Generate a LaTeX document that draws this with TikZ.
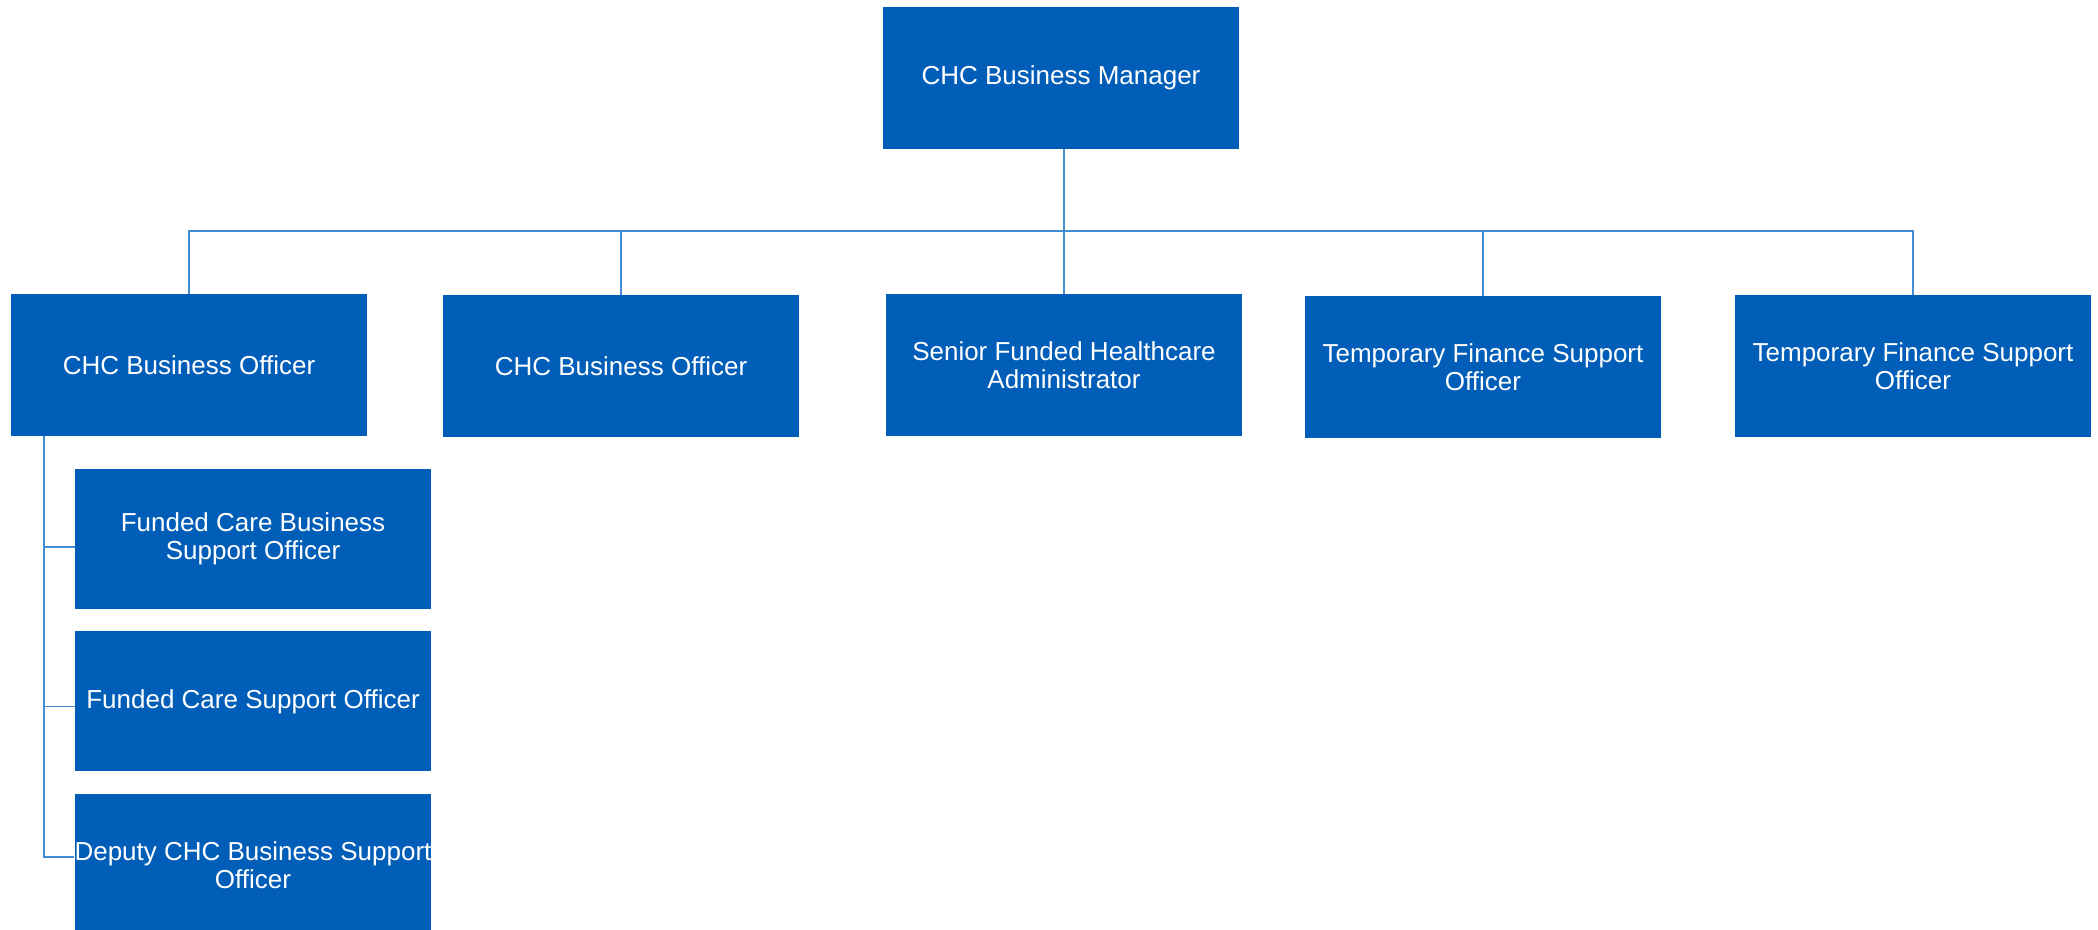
\documentclass[tikz,border=0pt]{standalone}
\usepackage{fontspec}
\setmainfont{Liberation Sans}
\usepackage{xcolor}
\usepackage{tikz}
\usetikzlibrary{positioning}
\usetikzlibrary{calc}

\definecolor{boxblue}{RGB}{0,94,184}
\definecolor{linkblue}{RGB}{66,140,210}

\tikzset{
	post/.style={fill=boxblue, text=white, minimum width=356pt, minimum height=142pt,
		inner sep=0pt, align=center, font=\fontsize{26}{28}\selectfont},
	link/.style={draw=linkblue, line width=1.4pt},
}

\begin{document}
\begin{tikzpicture}[x=1pt, y=-1pt]
	\useasboundingbox (0,0) rectangle (2098,929);

	\node[post] (mgr) at (1061,78) {CHC Business Manager};
	\node[post] (off1) at (189,365) {CHC Business Officer};
	\node[post] (off2) at (621,366) {CHC Business Officer};
	\node[post] (sfha) at (1064,365) {Senior Funded Healthcare\\Administrator};
	\node[post] (tfs1) at (1483,367) {Temporary Finance Support\\Officer};
	\node[post] (tfs2) at (1913,366) {Temporary Finance Support\\Officer};

	\node[post, minimum height=140pt] (fcb) at (253,539) {Funded Care Business\\Support Officer};
	\node[post, minimum height=140pt] (fcs) [below=22pt of fcb] {Funded Care Support Officer};
	\node[post] (dep) [below=22pt of fcs] {Deputy CHC Business Support\\Officer};

	\coordinate (bus) at (1064,231);
	\coordinate (trunk) at ([xshift=33pt]off1.south west);

	% manager to the row of officers
	\draw[link] (sfha.north |- mgr.south) -- (sfha.north);
	\draw[link] (off1.north) -- (off1.north |- bus) -- (tfs2.north |- bus) -- (tfs2.north);
	\foreach \n in {off2, tfs1}
		\draw[link] (\n.north) -- (\n.north |- bus);

	% support officers under the first business officer
	\draw[link] (trunk) |- ([yshift=8pt]dep.west);
	\draw[link] ([yshift=-8pt]trunk |- fcb.west) -- ([yshift=-8pt]fcb.west);
	\draw[link] ([yshift=-5pt]trunk |- fcs.west) -- ([yshift=-5pt]fcs.west);
\end{tikzpicture}
\end{document}
